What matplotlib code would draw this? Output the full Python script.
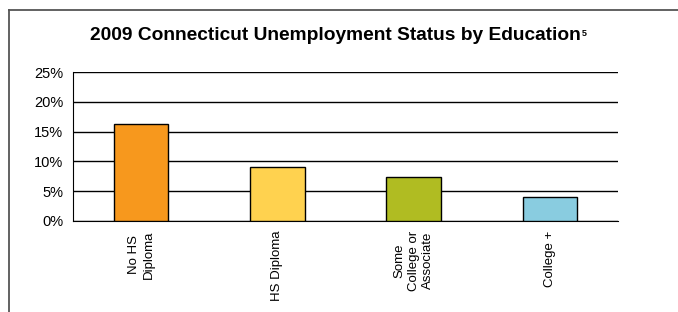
import matplotlib.pyplot as plt
from matplotlib.lines import Line2D

plt.rcParams['font.family'] = ['Liberation Sans', 'DejaVu Sans']

# data
categories = ["No HS\nDiploma", "HS Diploma", "Some\nCollege or\nAssociate", "College +"]
rates = [16.3, 9.1, 7.4, 4.1]
colors = ["#F7981D", "#FFD24F", "#B0BC22", "#89CCE0"]
yticks = [0, 5, 10, 15, 20, 25]

W, H = 678, 312
fig = plt.figure(figsize=(W / 100, H / 100), dpi=100)

# outer frame: only left and top edges are visible
fx, fy = 8.5 / W, 1 - 10 / H
fig.lines.append(Line2D([fx, fx], [0, fy], transform=fig.transFigure,
                        color="#555555", linewidth=1.3))
fig.lines.append(Line2D([fx, 1], [fy, fy], transform=fig.transFigure,
                        color="#555555", linewidth=1.3))

ax = fig.add_axes([73 / W, 1 - 221 / H, (618 - 73) / W, (221 - 72) / H])
x = range(len(categories))
ax.bar(x, rates, width=0.4, color=colors, edgecolor="black", linewidth=1, zorder=3)

ax.set_xlim(-0.5, len(categories) - 0.5)
ax.set_ylim(0, 25)
ax.set_yticks(yticks)
ax.set_yticklabels([f"{t}%" for t in yticks], fontsize=10.5)
ax.yaxis.grid(True, color="black", linewidth=1, zorder=0)
ax.tick_params(axis="y", length=0, pad=7)
ax.tick_params(axis="x", length=0, pad=7)
ax.set_xticks(list(x))
ax.set_xticklabels(categories, rotation=90, fontsize=9.5, va="top", ha="center",
                   multialignment="center", linespacing=1.3)
for s in ["top", "right"]:
    ax.spines[s].set_visible(False)
ax.spines["left"].set_color("black")
ax.spines["bottom"].set_color("black")

title = fig.text(335 / W, 1 - 35 / H, "2009 Connecticut Unemployment Status by Education",
                 ha="center", va="center", fontsize=13.8, fontweight="bold")
ax.annotate("5", xy=(1, 1), xycoords=title, xytext=(1, -2),
            textcoords="offset points", ha="left", va="top",
            fontsize=6.5, fontweight="bold", annotation_clip=False)

fig.savefig("out.png", dpi=100)
